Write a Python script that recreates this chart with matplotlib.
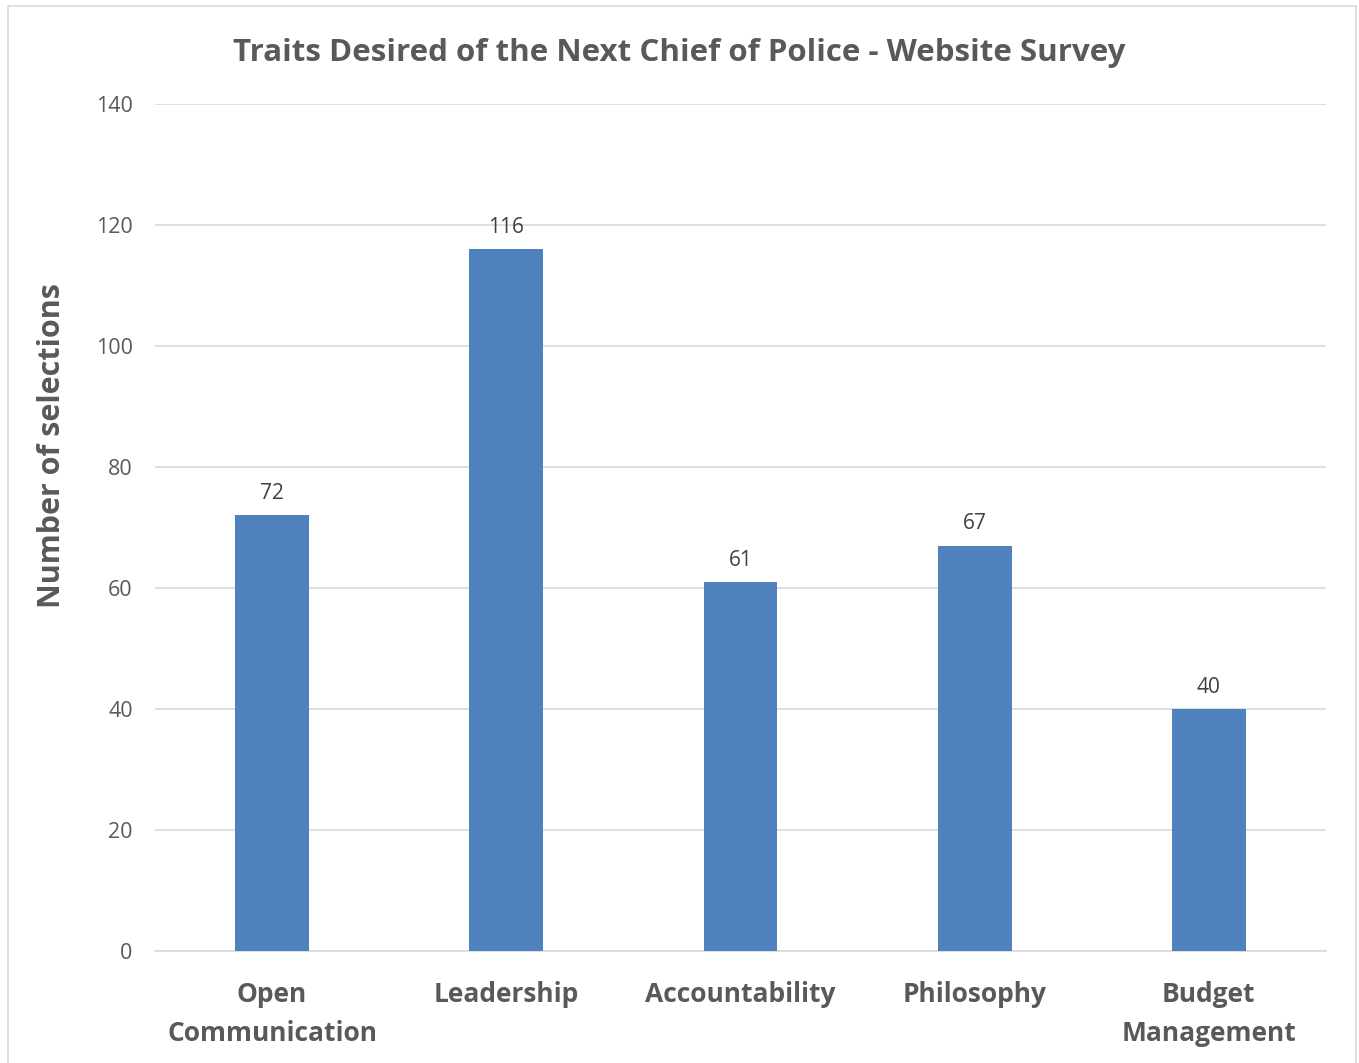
#!/usr/bin/env python3

# Bar chart: traits desired of the next chief of police (website survey)

import matplotlib
matplotlib.use('Agg')
import matplotlib.pyplot as plt
from matplotlib.patches import Rectangle

# Data
categories = ['Open\nCommunication', 'Leadership', 'Accountability', 'Philosophy', 'Budget\nManagement']
selections = [72, 116, 61, 67, 40]
y_ticks = [0, 20, 40, 60, 80, 100, 120, 140]

plt.rcParams['font.family'] = ['Open Sans', 'DejaVu Sans']

fig = plt.figure(figsize=(13.59, 10.63), dpi=100)
ax = fig.add_axes([0.114, 0.1054, 0.8617, 0.7968])

# light border around the whole chart
fig.patches.append(Rectangle((0.006, -0.01), 0.992, 1.004, transform=fig.transFigure,
                             fill=False, edgecolor='#D9D9D9', linewidth=1.2))

x = list(range(len(categories)))
bars = ax.bar(x, selections, width=0.315, color='#4F81BD', zorder=3)

for xi, v in zip(x, selections):
    ax.annotate(str(v), (xi, v), xytext=(0, 8), textcoords='offset points',
                ha='center', va='bottom', fontsize=15, color='#404040')

ax.set_xlim(-0.5, len(categories) - 0.5)
ax.set_ylim(0, 140)
ax.set_yticks(y_ticks)
ax.yaxis.grid(True, color='#D9D9D9', linewidth=1.2, zorder=0)
ax.set_axisbelow(True)

for side in ['top', 'right', 'left']:
    ax.spines[side].set_visible(False)
ax.spines['bottom'].set_color('#D9D9D9')
ax.spines['bottom'].set_linewidth(1.2)

ax.set_xticks(x)
ax.set_xticklabels(categories, fontsize=19, fontweight='bold', color='#595959', linespacing=1.57)
ax.tick_params(axis='x', length=0, pad=21.5)
ax.tick_params(axis='y', length=0, pad=16, labelsize=15.5, labelcolor='#595959')

ax.set_ylabel('Number of selections', fontsize=22, fontweight='bold', color='#595959')
ax.yaxis.set_label_coords(-0.0752, 0.597)

fig.text(0.5, 0.95, 'Traits Desired of the Next Chief of Police - Website Survey',
         ha='center', va='center', fontsize=22.5, fontweight='bold', color='#595959')

fig.savefig('out.png', dpi=100)
